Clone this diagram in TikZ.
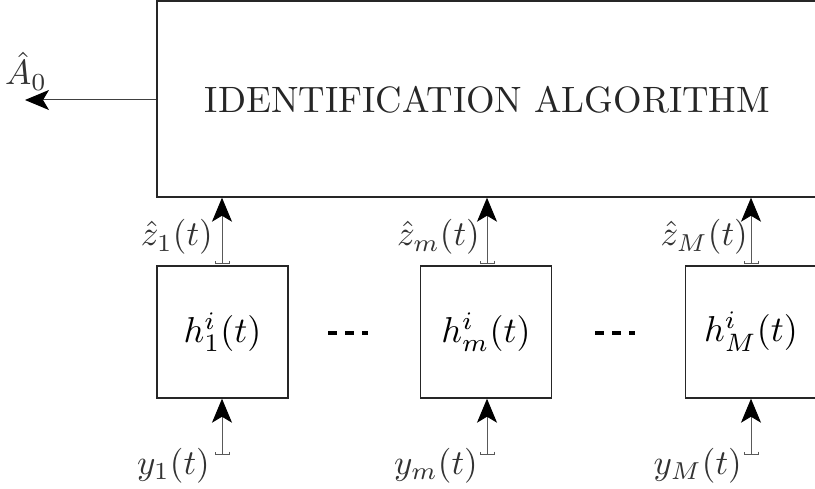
\documentclass[tikz,border=0pt]{standalone}
\usetikzlibrary{arrows.meta}
\begin{document}
\begin{tikzpicture}[x=1pt,y=-1pt,
  bighead/.tip={Stealth[length=24pt,width=20pt,inset=6pt,black]},
  frame/.style={draw=black!85,line width=1.4pt,inner sep=0pt},
  blk/.style={frame,minimum width=131pt,minimum height=132pt},
  lbl/.style={text=black!80,inner sep=0pt},
  feed/.style={draw=black!65,line width=0.9pt,
    {Bracket[width=15pt,length=3pt,line width=0.9pt]}-{bighead}},
  gap/.style={line width=4.5pt,dash pattern=on 9pt off 8pt,black}]
\useasboundingbox (0,0) rectangle (815,489);
\clip (0,0) rectangle (815,489);

% estimation block
\node[frame,minimum width=662pt,minimum height=196pt] (alg) at (488,99) {};
\node[text=black!85,inner sep=0pt] (title) at (487.5,100)
  {\resizebox{565pt}{!}{IDENTIFICATION ALGORITHM}};

% output estimate
\coordinate (out) at (25,100);
\draw[line width=1pt,draw=black!75,-{bighead}] (alg.west |- out) -- (out);
\node[lbl,anchor=base west] (a0) at (5,85) {\scalebox{3.5}{$\hat{A}_0$}};

% filter blocks
\node[blk] (b1) at (222.5,332) {\scalebox{3.6}{$h^i_1(t)$}};
\node[blk] (b2) at (486,332) {\scalebox{3.6}{$h^i_m(t)$}};
\node[blk] (b3) at (751,332) {\scalebox{3.6}{$h^i_M(t)$}};

% ellipses between blocks
\coordinate (d1a) at (328,333); \coordinate (d1b) at (368,333);
\coordinate (d2a) at (595,333); \coordinate (d2b) at (635,333);
\draw[gap] (d1a) -- (d1b);
\draw[gap] (d2a) -- (d2b);

% block outputs to the algorithm
\foreach \b/\x in {b1/222,b2/487,b3/751}{
  \coordinate (\b top) at (\x,264);
  \draw[feed] (\b top) -- (\b top |- alg.south);
}
\node[lbl,anchor=base east] (z1) at (213,246) {\scalebox{3.5}{$\hat{z}_1(t)$}};
\node[lbl,anchor=base east] (zm) at (480,246) {\scalebox{3.5}{$\hat{z}_m(t)$}};
\node[lbl,anchor=base east] (zM) at (748,246) {\scalebox{3.5}{$\hat{z}_M(t)$}};

% measured inputs
\foreach \b/\x in {b1/222,b2/487,b3/751}{
  \coordinate (\b in) at (\x,455);
  \draw[feed] (\b in) -- (\b in |- \b.south);
}
\node[lbl,anchor=base east] (y1) at (210,474) {\scalebox{3.5}{$y_1(t)$}};
\node[lbl,anchor=base east] (ym) at (478,474) {\scalebox{3.5}{$y_m(t)$}};
\node[lbl,anchor=base east] (yM) at (742,474) {\scalebox{3.5}{$y_M(t)$}};
\end{tikzpicture}
\end{document}
